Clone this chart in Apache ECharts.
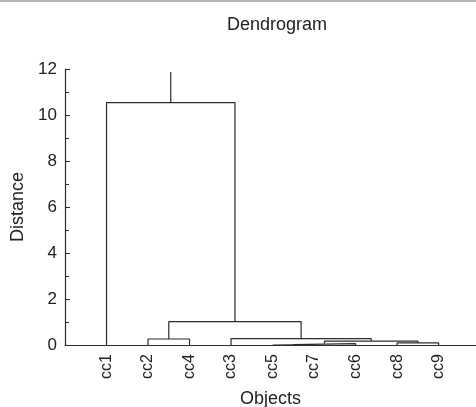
<!DOCTYPE html>
<html>
<head>
<meta charset="utf-8">
<script src="https://cdn.jsdelivr.net/npm/echarts@6/dist/echarts.min.js"></script>
<style>
  html, body { margin: 0; padding: 0; background: #fff; }
  #chart { width: 476px; height: 407px; }
</style>
</head>
<body>
<div id="chart"></div>
<script>
// leaves in display order
var leaves = ['cc1', 'cc2', 'cc4', 'cc3', 'cc5', 'cc7', 'cc6', 'cc8', 'cc9'];
// merges: [left node, right node, height]; node ids 0..8 are leaves, 9+ are merges in order
var merges = [
    [4, 5, 0.02],
    [9, 6, 0.06],
    [7, 8, 0.09],
    [10, 11, 0.17],
    [3, 12, 0.28],
    [1, 2, 0.26],
    [14, 13, 1.02],
    [0, 15, 10.54]
];
var rootTop = 11.87;
var yTicks = [0, 2, 4, 6, 8, 10, 12];

var nodeX = [], nodeH = [];
for (var i = 0; i < leaves.length; i++) {
    nodeX.push(i + 1);
    nodeH.push(0);
}
var lineStyle = { color: '#2b2b2b', width: 1.2 };
var series = [];
merges.forEach(function (m) {
    var a = m[0], b = m[1], h = m[2];
    series.push({
        type: 'line',
        symbol: 'none',
        silent: true,
        lineStyle: lineStyle,
        data: [[nodeX[a], nodeH[a]], [nodeX[a], h], [nodeX[b], h], [nodeX[b], nodeH[b]]]
    });
    nodeX.push((nodeX[a] + nodeX[b]) / 2);
    nodeH.push(h);
});
var rootId = nodeX.length - 1;
series.push({
    type: 'line',
    symbol: 'none',
    silent: true,
    lineStyle: lineStyle,
    data: [[nodeX[rootId], nodeH[rootId]], [nodeX[rootId], rootTop]]
});

var font = 'Liberation Sans, Arial, sans-serif';
var chart = echarts.init(document.getElementById('chart'));
chart.setOption({
    animation: false,
    backgroundColor: '#fff',
    title: {
        text: 'Dendrogram',
        left: 222,
        top: 11,
        textStyle: { fontFamily: font, fontSize: 18, fontWeight: 'normal', color: '#222' }
    },
    graphic: [{
        type: 'rect',
        shape: { x: 0, y: 0, width: 476, height: 2 },
        style: { fill: '#b4b4b4' }
    }],
    grid: { left: 65, right: 0, top: 69, bottom: 62, containLabel: false, outerBoundsMode: 'none' },
    xAxis: {
        type: 'value',
        min: 0,
        max: 9.9,
        interval: 1,
        name: 'Objects',
        nameLocation: 'middle',
        nameGap: 45,
        nameTextStyle: { fontFamily: font, fontSize: 18, color: '#222' },
        axisLine: { lineStyle: { color: '#2b2b2b', width: 1.2 } },
        axisTick: { show: false },
        splitLine: { show: false },
        axisLabel: {
            rotate: 90,
            fontFamily: font,
            fontSize: 16,
            color: '#222',
            margin: 9,
            showMaxLabel: false,
            formatter: function (v) {
                return leaves[v - 1] || '';
            }
        }
    },
    yAxis: {
        type: 'value',
        min: yTicks[0],
        max: yTicks[yTicks.length - 1],
        interval: 2,
        name: 'Distance',
        nameLocation: 'middle',
        nameGap: 38,
        nameTextStyle: { fontFamily: font, fontSize: 18, color: '#222' },
        axisLine: { show: true, lineStyle: { color: '#2b2b2b', width: 1.2 } },
        axisTick: { show: true, inside: true, length: 5, lineStyle: { color: '#2b2b2b' } },
        minorTick: { show: true, splitNumber: 2, length: 4, lineStyle: { color: '#2b2b2b' } },
        splitLine: { show: false },
        axisLabel: { fontFamily: font, fontSize: 17, color: '#222', margin: 8 }
    },
    series: series
});
</script>
</body>
</html>
